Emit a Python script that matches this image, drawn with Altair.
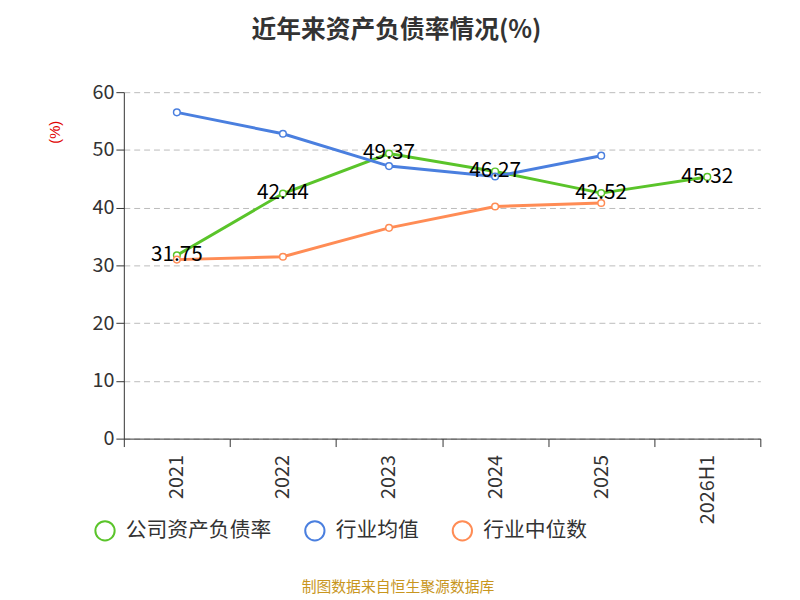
import altair as alt
import pandas as pd

years = ["2021", "2022", "2023", "2024", "2025", "2026H1"]
company = [31.75, 42.44, 49.37, 46.27, 42.52, 45.32]
ind_mean = [56.5, 52.8, 47.2, 45.4, 49.0]
ind_median = [31.0, 31.5, 36.5, 40.2, 40.8]
series = ["公司资产负债率", "行业均值", "行业中位数"]
colors = ["#5ac42a", "#4a7fdf", "#ff8c55"]

rows = []
for name, vals in zip(series, [company, ind_mean, ind_median]):
    for y, v in zip(years, vals):
        rows.append({"year": y, "value": v, "series": name})
df = pd.DataFrame(rows)
comp_df = df[df["series"] == series[0]]

font = "Noto Sans CJK SC"
x = alt.X("year:N", sort=years, bandPosition=0.5, title=None,
          scale=alt.Scale(type="band", paddingInner=0, paddingOuter=0, domain=years),
          axis=alt.Axis(tickBand="extent", labelFontSize=20, labelColor="#333", labelPadding=8,
                        tickSize=8, domainColor="#333", tickColor="#333", labelFont=font))
y = alt.Y("value:Q", scale=alt.Scale(domain=[0, 60]), title="(%)",
          axis=alt.Axis(values=[0, 10, 20, 30, 40, 50, 60], labelFontSize=20, labelColor="#333",
                        gridDash=[6, 4], gridColor="#bbb", domain=True, domainColor="#333",
                        tickColor="#333", tickSize=8, titleColor="#e00000", titleFontSize=15,
                        titleFontWeight="normal", titleX=-62, titleY=40, labelFont=font))
color = alt.Color("series:N", scale=alt.Scale(domain=series, range=colors),
                  legend=alt.Legend(title=None, orient="none", legendX=-30, legendY=432,
                                    direction="horizontal", symbolType="circle", symbolSize=380,
                                    symbolStrokeWidth=2, symbolFillColor="white",
                                    labelFontSize=21, labelColor="#333", labelFont=font,
                                    columnPadding=30, labelOffset=10))

lines = alt.Chart(df).mark_line(strokeWidth=3).encode(x=x, y=y, color=color)
points = alt.Chart(df).mark_point(filled=False, fill="white", fillOpacity=1, size=45,
                                  strokeWidth=1.5, opacity=1).encode(
    x=x, y=y, color=alt.Color("series:N", scale=alt.Scale(domain=series, range=colors), legend=None))
labels = alt.Chart(comp_df).mark_text(fontSize=21, color="black", font=font).encode(
    x=x, y=y, text=alt.Text("value:Q", format=".2f"))
source = alt.Chart(pd.DataFrame({"t": ["制图数据来自恒生聚源数据库"]})).mark_text(
    fontSize=15, color="#c8961e", font=font).encode(x=alt.value(277), y=alt.value(500), text="t:N")

chart = alt.layer(lines, points, labels, source).properties(
    width=643, height=350, autosize=alt.AutoSizeParams(type="none"),
    padding={"left": 117, "top": 82, "right": 32, "bottom": 160},
    title=alt.TitleParams("近年来资产负债率情况(%)", fontSize=25, font=font, fontWeight="bold",
                          color="#333", anchor="middle", offset=40, frame="group", dx=-46)
).configure_view(stroke=None)

chart.save("out.html", embed_options={"renderer": "svg", "actions": False})
